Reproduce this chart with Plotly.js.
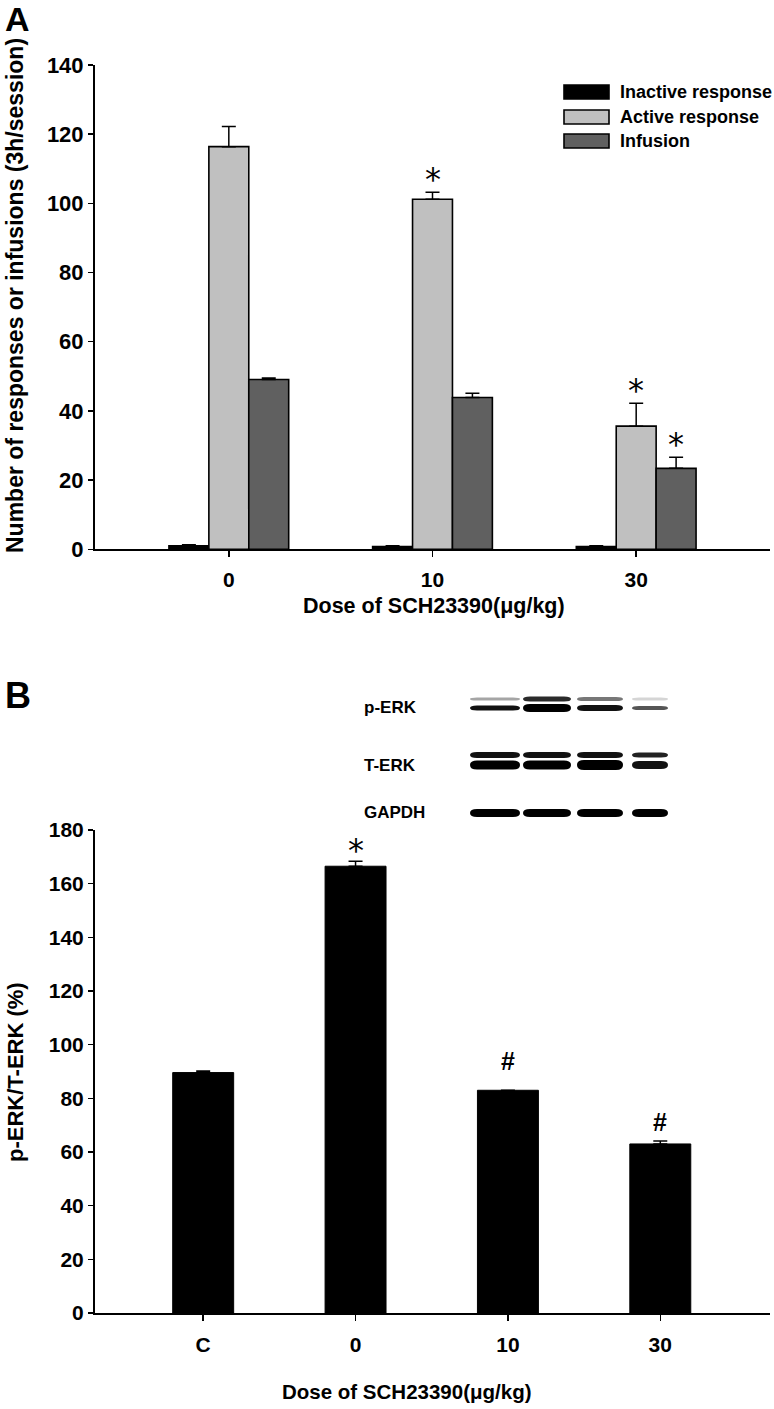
<!DOCTYPE html>
<html><head><meta charset="utf-8">
<script src="https://cdn.plot.ly/plotly-3.0.1.min.js"></script>
<style>html,body{margin:0;padding:0;background:#fff}#chart{width:774px;height:1409px}</style>
</head><body><div id="chart"></div>
<script>
// ---------- Panel A data ----------
const dosesA = ['0', '10', '30'];
const seriesNames = ['Inactive response', 'Active response', 'Infusion'];
const inactiveVals = [1.0, 0.8, 0.8];
const inactiveErr = [0.3, 0.2, 0.2];
const activeVals = [116.4, 101.2, 35.6];
const activeErr = [5.8, 2.0, 6.6];
const infusionVals = [49.1, 43.9, 23.4];
const infusionErr = [0.4, 1.2, 3.2];
const inactiveSig = ['', '', ''];
const activeSig = ['', '*', '*'];
const infusionSig = ['', '', '*'];
const yTicksA = [0, 20, 40, 60, 80, 100, 120, 140];

// ---------- Panel B data ----------
const groupsB = ['C', '0', '10', '30'];
const ratioVals = [89.6, 166.5, 83.0, 63.0];
const ratioErr = [0.6, 1.9, 0, 1.1];
const ratioSig = ['', '*', '#', '#'];
const yTicksB = [0, 20, 40, 60, 80, 100, 120, 140, 160, 180];
const blotLabels = ['p-ERK', 'T-ERK', 'GAPDH'];

// ---------- styles ----------
const W = 774, H = 1409;
const X = px => px / W;
const Y = py => 1 - py / H;
const SANS = 'Liberation Sans, Arial, sans-serif';
const colorsA = ['#000000', '#c0c0c0', '#606060'];
const BARGAP = 0.412;
const bw = (1 - BARGAP) / 3;
const sigLiftB = [0, 0, 10, 0];

const seriesA = [
  {name: seriesNames[0], vals: inactiveVals, err: inactiveErr, sig: inactiveSig},
  {name: seriesNames[1], vals: activeVals, err: activeErr, sig: activeSig},
  {name: seriesNames[2], vals: infusionVals, err: infusionErr, sig: infusionSig}
];

const traces = seriesA.map((s, k) => ({
  type: 'bar', name: s.name, x: dosesA, y: s.vals, xaxis: 'x', yaxis: 'y',
  marker: {color: colorsA[k], line: {color: '#000', width: 1.6}},
  error_y: {type: 'data', symmetric: false, array: s.err, color: '#000', thickness: 1.5, width: 7},
  hoverinfo: 'skip'
}));
traces.push({
  type: 'bar', name: 'p-ERK/T-ERK', x: groupsB, y: ratioVals, xaxis: 'x2', yaxis: 'y2',
  width: 0.4,
  marker: {color: '#000', line: {color: '#000', width: 1}},
  error_y: {type: 'data', symmetric: false, array: ratioErr, color: '#000', thickness: 1.5, width: 7},
  hoverinfo: 'skip'
});

const annotations = [];
const shapes = [];
function txt(px, py, text, size, opts) {
  annotations.push(Object.assign({
    xref: 'paper', yref: 'paper', x: X(px), y: Y(py), text: text, showarrow: false,
    xanchor: 'center', yanchor: 'middle',
    font: {family: SANS, size: size, color: '#000', weight: 'bold'}
  }, opts || {}));
}

// significance marks panel A
seriesA.forEach((s, k) => {
  s.sig.forEach((m, i) => {
    if (!m) return;
    annotations.push({
      xref: 'x', yref: 'y', x: i + (k - 1) * bw, y: s.vals[i] + s.err[i],
      text: m, showarrow: false, xanchor: 'center', yanchor: 'bottom', yshift: -8,
      font: {family: 'DejaVu Sans, sans-serif', size: 32, color: '#000'}
    });
  });
});
// significance marks panel B
ratioSig.forEach((m, i) => {
  if (!m) return;
  const star = m === '*';
  annotations.push({
    xref: 'x2', yref: 'y2', x: i, y: ratioVals[i] + ratioErr[i],
    text: m, showarrow: false, xanchor: 'center', yanchor: 'bottom',
    yshift: (star ? -10 : 3) + sigLiftB[i],
    font: star ? {family: 'DejaVu Sans, sans-serif', size: 32, color: '#000'}
               : {family: SANS, size: 25, color: '#000', weight: 'bold'}
  });
});

// panel letters and titles
txt(3, 19, 'A', 34, {xanchor: 'left'});
txt(3, 695, 'B', 36, {xanchor: 'left'});
txt(15, 296, 'Number of responses or infusions (3h/session)', 23, {textangle: -90});
txt(434, 606, 'Dose of SCH23390(μg/kg)', 21.5);
txt(15, 1072, 'p-ERK/T-ERK (%)', 22, {textangle: -90});
txt(407, 1391, 'Dose of SCH23390(μg/kg)', 20.5);

// legend (custom, large swatches)
const legRows = [92, 117, 141];
seriesNames.forEach((n, k) => {
  shapes.push({type: 'rect', xref: 'paper', yref: 'paper',
    x0: X(564), x1: X(609), y0: Y(legRows[k] - 7), y1: Y(legRows[k] + 7),
    fillcolor: colorsA[k], line: {color: '#000', width: 1.6}});
  txt(618, legRows[k], n, 18, {xanchor: 'left'});
});

// western blot labels
const blotRowsY = [707, 765, 812];
blotLabels.forEach((l, k) => txt(362, blotRowsY[k], l, 17, {xanchor: 'left'}));

// western blot bands (illustration)
const laneC = [495, 547, 600, 650];
const laneW = [50, 48, 46, 36];
const bands = [
  // [rowY, lane, height, color]
  [699, 0, 3, '#a5a5a5'], [699, 1, 5, '#2a2a2a'], [699, 2, 4, '#777'], [699, 3, 3, '#d5d5d5'],
  [708, 0, 5, '#111'], [708, 1, 8, '#000'], [708, 2, 6, '#111'], [708, 3, 4, '#555'],
  [755, 0, 6, '#111'], [755, 1, 6, '#111'], [755, 2, 6, '#111'], [755, 3, 5, '#222'],
  [765, 0, 9, '#000'], [765, 1, 9, '#000'], [765, 2, 10, '#000'], [765, 3, 8, '#111'],
  [813, 0, 8, '#000'], [813, 1, 8, '#000'], [813, 2, 8, '#000'], [813, 3, 8, '#000']
];
bands.forEach(b => {
  const cy = b[0], cx = laneC[b[1]], h = b[2], w = laneW[b[1]];
  const x0 = X(cx - w / 2), x1 = X(cx + w / 2), r = X(cx - w / 2 + 7) - x0;
  const y0 = Y(cy - h / 2), y1 = Y(cy + h / 2), ym = Y(cy);
  const p = `M${x0 + r},${y0} L${x1 - r},${y0} Q${x1},${y0} ${x1},${ym} Q${x1},${y1} ${x1 - r},${y1} L${x0 + r},${y1} Q${x0},${y1} ${x0},${ym} Q${x0},${y0} ${x0 + r},${y0} Z`;
  shapes.push({type: 'path', xref: 'paper', yref: 'paper', path: p, fillcolor: b[3], line: {width: 0}});
});

const axisCommon = {
  showline: true, linecolor: '#000', linewidth: 2, mirror: false,
  ticks: 'outside', tickcolor: '#000', tickwidth: 1.5,
  showgrid: false, zeroline: false, fixedrange: true
};

const layout = {
  width: W, height: H, margin: {l: 0, r: 0, t: 0, b: 0},
  paper_bgcolor: '#fff', plot_bgcolor: '#fff', showlegend: false,
  barmode: 'group', bargap: BARGAP, bargroupgap: 0,
  xaxis: Object.assign({}, axisCommon, {
    domain: [X(95), X(770)], anchor: 'y', type: 'category', range: [-0.657, 2.657],
    ticklen: 6, ticklabelstandoff: 4, tickfont: {family: SANS, size: 21, color: '#000', weight: 'bold'}
  }),
  yaxis: Object.assign({}, axisCommon, {
    domain: [Y(549.3), Y(65)], anchor: 'x', range: [0, 140], tickvals: yTicksA,
    ticklen: 5, ticklabelstandoff: 0, tickfont: {family: SANS, size: 22, color: '#000', weight: 'bold'}
  }),
  xaxis2: Object.assign({}, axisCommon, {
    domain: [X(95), X(770)], anchor: 'y2', type: 'category', range: [-0.71, 3.72],
    ticklen: 6, ticklabelstandoff: 6, tickfont: {family: SANS, size: 21, color: '#000', weight: 'bold'}
  }),
  yaxis2: Object.assign({}, axisCommon, {
    domain: [Y(1313), Y(830)], anchor: 'x2', range: [0, 180], tickvals: yTicksB,
    ticklen: 5, ticklabelstandoff: 0, tickfont: {family: SANS, size: 21, color: '#000', weight: 'bold'}
  }),
  annotations: annotations,
  shapes: shapes
};

Plotly.newPlot('chart', traces, layout, {staticPlot: true, displayModeBar: false});
</script>
</body></html>
